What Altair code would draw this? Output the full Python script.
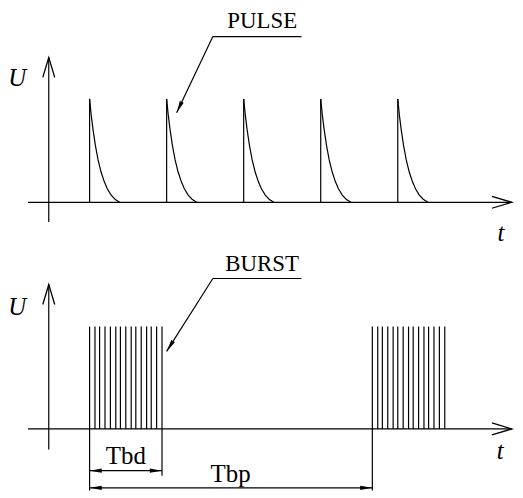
import altair as alt
import pandas as pd

# ---------------- values (t: time units, U: amplitude units)
pulse_times = [5.3, 15.3, 25.3, 35.3, 45.3]
pulse_peak = 1.0
decay_dt = [0.0, 0.2, 0.45, 0.75, 1.1, 1.5, 1.9, 2.3, 2.8, 3.3, 3.9]
decay_u = [1.0, 0.85, 0.70, 0.55, 0.41, 0.29, 0.20, 0.13, 0.07, 0.03, 0.0]

burst1_times = [5.3, 6.0, 6.6, 7.3, 8.0, 8.7, 9.3, 10.0, 10.7, 11.3, 12.0, 12.7, 13.3, 14.0, 14.7]
burst2_times = [42.0, 42.7, 43.3, 44.0, 44.7, 45.3, 46.0, 46.7, 47.3, 48.0, 48.7, 49.3, 50.0, 50.7, 51.4]
burst_level = 1.0

tbd_span = [5.3, 14.7]
tbp_span = [5.3, 42.0]

# axis extents (data units)
t_axis = [-2.7, 60.1]
u_axis_top = [-0.19, 1.40]
u_axis_bot = [-0.20, 1.41]

# annotation anchors (data units)
pulse_note = {"text": "PULSE", "t": 27.7, "u": 1.683, "line_t": [21.3, 32.8], "line_u": 1.603, "tip": [16.6, 0.865], "angle": 205}
burst_note = {"text": "BURST", "t": 27.7, "u": 1.541, "line_t": [21.3, 32.8], "line_u": 1.469, "tip": [15.3, 0.757], "angle": 212}
tbd_note = {"text": "Tbd", "t": 10.0, "u": -0.343, "level": -0.408, "ext": [-0.60, -0.456]}
tbp_note = {"text": "Tbp", "t": 23.6, "u": -0.52, "level": -0.575, "ext": [-0.60, -0.60]}
axis_labels_top = {"U": [-4.1, 1.125], "t": [58.7, -0.375]}
axis_labels_bot = {"U": [-4.1, 1.117], "t": [58.6, -0.291]}

# ---------------- scales
XDOM = [-5.1613, 60.258]
YDOM_TOP = [-0.47115, 1.84615]
YDOM_BOT = [-0.60194, 1.73786]
W = 507
H_TOP = 241
H_BOT = 241

SERIF = "Liberation Serif, DejaVu Serif, serif"
OPEN_ARROW = "M-0.6,2L0,0L0.6,2"
SOLID_ARROW = "M0,0L0.35,2L-0.35,2Z"


def xs(f):
    return alt.X(f"{f}:Q", scale=alt.Scale(domain=XDOM, nice=False, zero=False), axis=None)


def ys(f, dom):
    return alt.Y(f"{f}:Q", scale=alt.Scale(domain=dom, nice=False, zero=False), axis=None)


def panel(segs, curves, open_heads, solid_heads, texts, itexts, dom, h):
    seg = alt.Chart(pd.DataFrame(segs)).mark_rule(color="black", strokeWidth=1.2).encode(
        x=xs("t"), y=ys("u", dom), x2=alt.X2("t2:Q"), y2=alt.Y2("u2:Q"))
    layers = [seg]
    if curves:
        layers.append(alt.Chart(pd.DataFrame(curves)).mark_line(color="black", strokeWidth=1.2).encode(
            x=xs("t"), y=ys("u", dom), detail="k:N", order="o:Q"))
    layers.append(alt.Chart(pd.DataFrame(open_heads)).mark_point(
        shape=OPEN_ARROW, size=400, filled=False, color="black", strokeWidth=1.3, opacity=1).encode(
        x=xs("t"), y=ys("u", dom), angle=alt.Angle("a:Q", scale=None)))
    layers.append(alt.Chart(pd.DataFrame(solid_heads)).mark_point(
        shape=SOLID_ARROW, size=150, filled=True, color="black", opacity=1).encode(
        x=xs("t"), y=ys("u", dom), angle=alt.Angle("a:Q", scale=None)))
    layers.append(alt.Chart(pd.DataFrame(texts)).mark_text(
        font=SERIF, align="center", baseline="alphabetic", color="black").encode(
        x=xs("t"), y=ys("u", dom), text="label:N", size=alt.Size("fs:Q", scale=None)))
    layers.append(alt.Chart(pd.DataFrame(itexts)).mark_text(
        font=SERIF, fontStyle="italic", fontSize=25, align="center", baseline="alphabetic", color="black").encode(
        x=xs("t"), y=ys("u", dom), text="label:N"))
    return alt.layer(*layers).properties(width=W, height=h)


# ---------------- top panel: PULSE
segs_top = [
    {"t": t_axis[0], "u": 0, "t2": t_axis[1], "u2": 0},
    {"t": 0, "u": u_axis_top[0], "t2": 0, "u2": u_axis_top[1]},
]
for p in pulse_times:
    segs_top.append({"t": p, "u": 0, "t2": p, "u2": pulse_peak})
segs_top.append({"t": pulse_note["line_t"][0], "u": pulse_note["line_u"], "t2": pulse_note["line_t"][1], "u2": pulse_note["line_u"]})
segs_top.append({"t": pulse_note["line_t"][0], "u": pulse_note["line_u"], "t2": pulse_note["tip"][0], "u2": pulse_note["tip"][1]})

curves_top = []
for k, p in enumerate(pulse_times):
    for o, (dt, u) in enumerate(zip(decay_dt, decay_u)):
        curves_top.append({"t": p + dt, "u": u * pulse_peak, "k": k, "o": o})

open_top = [{"t": 0, "u": u_axis_top[1], "a": 0}, {"t": t_axis[1], "u": 0, "a": 90}]
solid_top = [{"t": pulse_note["tip"][0], "u": pulse_note["tip"][1], "a": pulse_note["angle"]}]
texts_top = [{"t": pulse_note["t"], "u": pulse_note["u"], "label": pulse_note["text"], "fs": 23}]
itexts_top = [{"t": v[0], "u": v[1], "label": k} for k, v in axis_labels_top.items()]

top = panel(segs_top, curves_top, open_top, solid_top, texts_top, itexts_top, YDOM_TOP, H_TOP)

# ---------------- bottom panel: BURST
segs_bot = [
    {"t": t_axis[0], "u": 0, "t2": t_axis[1], "u2": 0},
    {"t": 0, "u": u_axis_bot[0], "t2": 0, "u2": u_axis_bot[1]},
]
for b in burst1_times + burst2_times:
    segs_bot.append({"t": b, "u": 0, "t2": b, "u2": burst_level})
segs_bot.append({"t": tbd_span[0], "u": 0, "t2": tbd_span[0], "u2": tbd_note["ext"][0]})
segs_bot.append({"t": tbd_span[1], "u": 0, "t2": tbd_span[1], "u2": tbd_note["ext"][1]})
segs_bot.append({"t": tbp_span[1], "u": 0, "t2": tbp_span[1], "u2": tbp_note["ext"][1]})
segs_bot.append({"t": tbd_span[0], "u": tbd_note["level"], "t2": tbd_span[1], "u2": tbd_note["level"]})
segs_bot.append({"t": tbp_span[0], "u": tbp_note["level"], "t2": tbp_span[1], "u2": tbp_note["level"]})
segs_bot.append({"t": burst_note["line_t"][0], "u": burst_note["line_u"], "t2": burst_note["line_t"][1], "u2": burst_note["line_u"]})
segs_bot.append({"t": burst_note["line_t"][0], "u": burst_note["line_u"], "t2": burst_note["tip"][0], "u2": burst_note["tip"][1]})

open_bot = [{"t": 0, "u": u_axis_bot[1], "a": 0}, {"t": t_axis[1], "u": 0, "a": 90}]
solid_bot = [
    {"t": burst_note["tip"][0], "u": burst_note["tip"][1], "a": burst_note["angle"]},
    {"t": tbd_span[0], "u": tbd_note["level"], "a": 270},
    {"t": tbd_span[1], "u": tbd_note["level"], "a": 90},
    {"t": tbp_span[0], "u": tbp_note["level"], "a": 270},
    {"t": tbp_span[1], "u": tbp_note["level"], "a": 90},
]
texts_bot = [
    {"t": burst_note["t"], "u": burst_note["u"], "label": burst_note["text"], "fs": 23},
    {"t": tbd_note["t"], "u": tbd_note["u"], "label": tbd_note["text"], "fs": 25},
    {"t": tbp_note["t"], "u": tbp_note["u"], "label": tbp_note["text"], "fs": 25},
]
itexts_bot = [{"t": v[0], "u": v[1], "label": k} for k, v in axis_labels_bot.items()]

bottom = panel(segs_bot, [], open_bot, solid_bot, texts_bot, itexts_bot, YDOM_BOT, H_BOT)

chart = alt.vconcat(top, bottom, spacing=0).properties(
    padding=0, background="white"
).configure_view(strokeOpacity=0)

chart.save("out.html", embed_options={"renderer": "svg", "actions": False})
